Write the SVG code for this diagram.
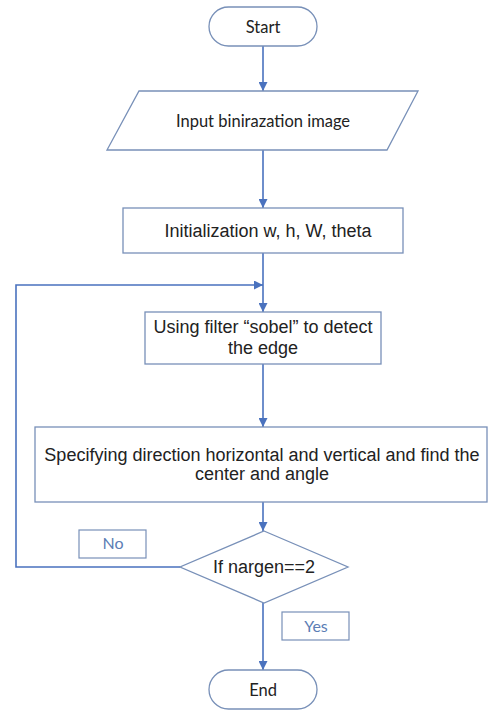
<svg xmlns="http://www.w3.org/2000/svg" width="491" height="712" viewBox="0 0 491 712">
  <style>
    .shape { fill: #ffffff; stroke: #7890b8; stroke-width: 1.3; }
    .conn { fill: none; stroke: #4a72be; stroke-width: 1.6; }
    .lbl { fill: none; stroke: #7890b8; stroke-width: 1.2; }
    .cal { font-family: Lato, "Open Sans", sans-serif; font-size: 16.5px; fill: #222222; text-anchor: middle; }
    .ari { font-family: "Liberation Sans", Arial, sans-serif; font-size: 18px; fill: #222222; text-anchor: middle; }
    .tag { font-family: Lato, "Open Sans", sans-serif; font-size: 16px; fill: #5b7db5; text-anchor: middle; }
  </style>
  <defs>
    <marker id="arrow" viewBox="0 0 10 10" refX="10" refY="5" markerWidth="9" markerHeight="9" markerUnits="userSpaceOnUse" orient="auto">
      <path d="M0,0 L10,5 L0,10 z" fill="#4a72be"/>
    </marker>
  </defs>

  <rect width="491" height="712" fill="#ffffff"/>

  <!-- connectors -->
  <g id="connectors">
    <line class="conn" x1="263" y1="46" x2="263" y2="91" marker-end="url(#arrow)"/>
    <line class="conn" x1="263" y1="150" x2="263" y2="208" marker-end="url(#arrow)"/>
    <line class="conn" x1="263" y1="253" x2="263" y2="312" marker-end="url(#arrow)"/>
    <line class="conn" x1="263" y1="364" x2="263" y2="427" marker-end="url(#arrow)"/>
    <line class="conn" x1="263" y1="502" x2="263" y2="531" marker-end="url(#arrow)"/>
    <line class="conn" x1="263" y1="603" x2="263" y2="670" marker-end="url(#arrow)"/>
    <polyline class="conn" points="180,567 16,567 16,285 263,285" marker-end="url(#arrow)"/>
  </g>

  <g id="start">
    <rect class="shape" x="209" y="7" width="108" height="39" rx="19.5"/>
    <text class="cal" x="263" y="33">Start</text>
  </g>

  <g id="input">
    <polygon class="shape" points="139,91 418,91 387,150 107,150"/>
    <text class="cal" x="263" y="127">Input binirazation image</text>
  </g>

  <g id="init">
    <rect class="shape" x="123" y="208" width="280" height="45"/>
    <text class="ari" x="268" y="237">Initialization w, h, W, theta</text>
  </g>

  <g id="sobel">
    <rect class="shape" x="145" y="312" width="236" height="52"/>
    <text class="ari" x="263" y="333">Using filter “sobel” to detect</text>
    <text class="ari" x="263" y="354">the edge</text>
  </g>

  <g id="direction">
    <rect class="shape" x="35" y="427" width="452" height="75"/>
    <text class="ari" x="262" y="461">Specifying direction horizontal and vertical and find the</text>
    <text class="ari" x="262" y="480">center and angle</text>
  </g>

  <g id="decision">
    <polygon class="shape" points="264,531 348,567 264,603 180,567"/>
    <text class="ari" x="264" y="573">If nargen==2</text>
  </g>

  <g id="label-no">
    <rect class="lbl" x="79" y="530" width="67" height="28"/>
    <text class="tag" x="113" y="549">No</text>
  </g>

  <g id="label-yes">
    <rect class="lbl" x="282" y="612" width="67" height="28"/>
    <text class="tag" x="316" y="632">Yes</text>
  </g>

  <g id="end">
    <rect class="shape" x="209" y="670" width="108" height="39" rx="19.5"/>
    <text class="cal" x="263" y="696">End</text>
  </g>
</svg>
